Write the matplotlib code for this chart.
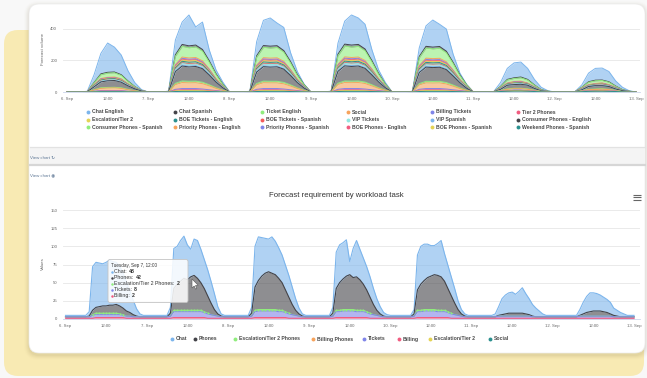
import numpy as np
import matplotlib
matplotlib.use("Agg")
import matplotlib.pyplot as plt
from matplotlib.patches import FancyBboxPatch, Polygon

plt.rcParams['font.family'] = ['Liberation Sans', 'DejaVu Sans']

W, H = 647, 378

# ---------------- shared time axis (hours after 6 Sep 00:00) ----------------
TICK_HOURS = list(range(0, 169, 12))
TICK_LABELS = ['6. Sep', '12:00', '7. Sep', '12:00', '8. Sep', '12:00', '9. Sep', '12:00',
               '10. Sep', '12:00', '11. Sep', '12:00', '12. Sep', '12:00', '13. Sep']

HC_COLORS = ['#7cb5ec', '#434348', '#90ed7d', '#f7a35c', '#8085e9',
             '#f15c80', '#e4d354', '#2b908f', '#f45b5b', '#91e8e1']

# ---------------- top chart: forecast volume per queue (2-hourly) ----------------
TOP_HOURS = list(range(0, 169, 2))

CHAT_ENGLISH = [
    [0, 0, 0, 2, 50, 130, 186, 158, 125, 65, 25, 5],
    [0, 0, 0, 2, 94, 142, 196, 115, 174, 69, 24, 13],
    [0, 0, 0, 1, 90, 160, 179, 144, 147, 57, 19, 3],
    [0, 0, 0, 2, 70, 146, 191, 168, 157, 70, 22, 10],
    [0, 0, 0, 1, 55, 130, 172, 141, 141, 52, 11, 2],
    [0, 0, 0, 1, 25, 70, 95, 95, 70, 35, 15, 3],
    [0, 0, 0, 1, 15, 55, 75, 76, 65, 32, 15, 3],
]
CHAT_SPANISH = [
    [0, 0, 0, 0, 2, 5, 5, 5, 4, 3, 1, 0],
    [0, 0, 0, 0, 9, 12, 12, 12, 11, 8, 5, 2],
    [0, 0, 0, 0, 9, 11, 12, 11, 10, 8, 5, 2],
    [0, 0, 0, 0, 10, 12, 13, 12, 11, 8, 5, 2],
    [0, 0, 0, 0, 8, 11, 11, 11, 10, 7, 4, 2],
    [0, 0, 0, 0, 2, 4, 4, 5, 4, 2, 1, 0],
    [0, 0, 0, 0, 1, 3, 4, 3, 3, 2, 1, 0],
]
TICKET_ENGLISH = [
    [0, 0, 0, 1, 11, 24, 27, 27, 22, 14, 6, 2],
    [0, 0, 0, 1, 53, 68, 65, 67, 61, 44, 26, 11],
    [0, 0, 0, 1, 50, 66, 64, 66, 58, 42, 24, 10],
    [0, 0, 0, 1, 54, 69, 66, 68, 62, 45, 27, 11],
    [0, 0, 0, 1, 49, 64, 62, 64, 57, 41, 24, 10],
    [0, 0, 0, 1, 6, 19, 19, 21, 19, 10, 3, 2],
    [0, 0, 0, 1, 5, 15, 17, 15, 15, 7, 4, 2],
]
CONSUMER_PHONES_EN = [
    [0, 0, 0, 1, 18, 37, 42, 43, 35, 22, 11, 4],
    [0, 0, 0, 2, 74, 95, 91, 93, 86, 62, 36, 15],
    [0, 0, 0, 2, 72, 92, 90, 92, 84, 60, 34, 14],
    [0, 0, 0, 2, 75, 96, 93, 95, 87, 63, 37, 15],
    [0, 0, 0, 2, 70, 90, 88, 89, 82, 58, 33, 13],
    [0, 0, 0, 1, 7, 23, 23, 25, 23, 11, 3, 2],
    [0, 0, 0, 1, 5, 18, 21, 19, 18, 8, 5, 2],
]
PRIORITY_PHONES_EN = [
    [0, 0, 0, 1, 7, 14, 16, 17, 14, 9, 4, 1],
    [0, 0, 0, 1, 30, 38, 36, 37, 34, 25, 14, 6],
    [0, 0, 0, 1, 29, 37, 36, 36, 33, 24, 13, 5],
    [0, 0, 0, 1, 31, 38, 37, 38, 35, 25, 14, 6],
    [0, 0, 0, 1, 28, 36, 35, 36, 32, 23, 13, 5],
    [0, 0, 0, 0, 2, 8, 8, 8, 8, 4, 1, 1],
    [0, 0, 0, 0, 2, 7, 7, 7, 7, 3, 1, 1],
]

# day profiles shared by the smaller queues
Q10_WEEKDAY = [0, 0, 0, 0, 8, 10, 10, 10, 9, 7, 4, 2]
Q8_WEEKDAY = [0, 0, 0, 0, 6, 8, 8, 8, 7, 5, 3, 1]
Q6_WEEKDAY = [0, 0, 0, 0, 5, 6, 6, 6, 5, 4, 2, 1]
Q5_WEEKDAY = [0, 0, 0, 0, 4, 5, 5, 5, 4, 3, 2, 1]
Q4_WEEKDAY = [0, 0, 0, 0, 3, 4, 4, 4, 4, 3, 2, 1]
Q10_HOLIDAY = [0, 0, 0, 0, 3, 4, 4, 4, 4, 3, 1, 1]
Q8_HOLIDAY = [0, 0, 0, 0, 2, 3, 3, 3, 3, 2, 1, 0]
QS_HOLIDAY = [0, 0, 0, 0, 1, 2, 2, 2, 2, 1, 1, 0]
Q10_SAT = [0, 0, 0, 0, 2, 3, 3, 3, 3, 2, 1, 0]
Q8_SAT = [0, 0, 0, 0, 1, 2, 3, 3, 2, 1, 1, 0]
QS_SAT = [0, 0, 0, 0, 1, 1, 2, 2, 1, 1, 0, 0]
Q10_SUN = [0, 0, 0, 0, 2, 2, 3, 3, 2, 2, 1, 0]
Q8_SUN = [0, 0, 0, 0, 1, 2, 2, 2, 2, 1, 0, 0]
QS_SUN = [0, 0, 0, 0, 1, 1, 1, 2, 1, 1, 0, 0]
WEEKEND_SAT = [0, 0, 0, 0, 3, 5, 6, 6, 5, 3, 1, 0]
WEEKEND_SUN = [0, 0, 0, 0, 2, 4, 5, 5, 4, 3, 1, 0]

SOCIAL = [Q8_HOLIDAY] + [Q8_WEEKDAY] * 4 + [Q8_SAT, Q8_SUN]
BILLING_TICKETS = [QS_HOLIDAY] + [Q6_WEEKDAY] * 4 + [QS_SAT, QS_SUN]
TIER2_PHONES = [QS_HOLIDAY] + [Q5_WEEKDAY] * 4 + [QS_SAT, QS_SUN]
ESCALATION_TIER2 = [Q8_HOLIDAY] + [Q8_WEEKDAY] * 4 + [Q8_SAT, Q8_SUN]
BOE_TICKETS_EN = [Q10_HOLIDAY] + [Q10_WEEKDAY] * 4 + [Q10_SAT, Q10_SUN]
BOE_TICKETS_ES = [QS_HOLIDAY] + [Q4_WEEKDAY] * 4 + [QS_SAT, QS_SUN]
VIP_TICKETS = [Q10_HOLIDAY] + [Q10_WEEKDAY] * 4 + [Q10_SAT, Q10_SUN]
VIP_SPANISH = [QS_HOLIDAY] + [Q6_WEEKDAY] * 4 + [QS_SAT, QS_SUN]
CONSUMER_PHONES_ES = [Q10_HOLIDAY] + [Q10_WEEKDAY] * 4 + [Q10_SAT, Q10_SUN]
PRIORITY_PHONES_ES = [Q8_HOLIDAY] + [Q8_WEEKDAY] * 4 + [Q8_SAT, Q8_SUN]
BOE_PHONES_EN = [QS_HOLIDAY] + [Q5_WEEKDAY] * 4 + [QS_SAT, QS_SUN]
BOE_PHONES_ES = [QS_HOLIDAY] + [Q5_WEEKDAY] * 4 + [QS_SAT, QS_SUN]
WEEKEND_PHONES_ES = [QS_HOLIDAY] + [Q4_WEEKDAY] * 4 + [WEEKEND_SAT, WEEKEND_SUN]

TOP_NAMES = ['Chat English', 'Chat Spanish', 'Ticket English', 'Social', 'Billing Tickets',
             'Tier 2 Phones', 'Escalation/Tier 2', 'BOE Tickets - English',
             'BOE Tickets - Spanish', 'VIP Tickets', 'VIP Spanish',
             'Consumer Phones - English', 'Consumer Phones - Spanish',
             'Priority Phones - English', 'Priority Phones - Spanish',
             'BOE Phones - English', 'BOE Phones - Spanish', 'Weekend Phones - Spanish']
TOP_DAYS = [CHAT_ENGLISH, CHAT_SPANISH, TICKET_ENGLISH, SOCIAL, BILLING_TICKETS,
            TIER2_PHONES, ESCALATION_TIER2, BOE_TICKETS_EN, BOE_TICKETS_ES, VIP_TICKETS,
            VIP_SPANISH, CONSUMER_PHONES_EN, CONSUMER_PHONES_ES, PRIORITY_PHONES_EN,
            PRIORITY_PHONES_ES, BOE_PHONES_EN, BOE_PHONES_ES, WEEKEND_PHONES_ES]

# ---------------- bottom chart: requirement by workload task (hourly) ----------------
BOTTOM_HOURS = list(range(0, 169))

CHAT = [
    [2, 2, 2, 2, 2, 2, 2, 6, 60, 62, 60, 58, 60, 62, 60, 58, 55, 48, 40, 30, 20, 10, 4, 2],
    [2, 2, 2, 2, 2, 2, 2, 8, 55, 52, 56, 58, 48, 38, 50, 52, 46, 40, 36, 30, 22, 10, 3, 2],
    [2, 2, 2, 2, 2, 2, 2, 8, 56, 60, 53, 48, 45, 50, 46, 42, 38, 34, 30, 24, 16, 8, 3, 2],
    [2, 2, 2, 2, 2, 2, 2, 8, 50, 52, 50, 50, 18, 40, 50, 42, 36, 32, 28, 22, 16, 10, 5, 3],
    [2, 2, 2, 2, 2, 2, 2, 6, 48, 52, 50, 46, 42, 40, 44, 50, 38, 32, 26, 20, 12, 6, 3, 2],
    [2, 2, 2, 2, 2, 2, 2, 4, 12, 22, 26, 28, 29, 26, 30, 35, 28, 22, 16, 12, 8, 4, 2, 2],
    [2, 2, 2, 2, 2, 2, 2, 2, 8, 16, 22, 26, 25, 24, 22, 20, 18, 16, 10, 8, 6, 4, 2, 2],
]
PHONES = [
    [0, 0, 0, 0, 0, 0, 0, 1, 6, 8, 9, 10, 10, 11, 11, 12, 11, 9, 7, 5, 3, 1, 0, 0],
    [0, 0, 0, 0, 0, 0, 0, 4, 30, 36, 40, 44, 42, 46, 48, 44, 38, 32, 24, 16, 8, 3, 1, 0],
    [0, 0, 0, 0, 0, 0, 0, 4, 32, 40, 46, 50, 52, 50, 48, 44, 38, 30, 22, 14, 7, 3, 1, 0],
    [0, 0, 0, 0, 0, 0, 0, 4, 30, 38, 42, 46, 48, 44, 46, 42, 36, 30, 22, 14, 7, 3, 1, 0],
    [0, 0, 0, 0, 0, 0, 0, 3, 28, 36, 40, 44, 46, 48, 48, 46, 40, 32, 24, 16, 8, 3, 1, 0],
    [0, 0, 0, 0, 0, 0, 0, 0, 1, 2, 3, 4, 4, 4, 4, 4, 3, 2, 1, 0, 0, 0, 0, 0],
    [0, 0, 0, 0, 0, 0, 0, 0, 1, 3, 5, 6, 7, 7, 7, 6, 5, 3, 2, 1, 0, 0, 0, 0],
]
ESCALATION_T2_PHONES = [
    [0, 0, 0, 0, 0, 0, 0, 0, 1, 2, 2, 2, 2, 2, 2, 2, 1, 1, 0, 0, 0, 0, 0, 0],
    [0, 0, 0, 0, 0, 0, 0, 0, 2, 2, 2, 2, 2, 2, 2, 2, 2, 1, 1, 0, 0, 0, 0, 0],
    [0, 0, 0, 0, 0, 0, 0, 0, 2, 2, 2, 2, 2, 2, 2, 2, 2, 1, 1, 0, 0, 0, 0, 0],
    [0, 0, 0, 0, 0, 0, 0, 0, 2, 2, 2, 2, 2, 2, 2, 2, 2, 1, 1, 0, 0, 0, 0, 0],
    [0, 0, 0, 0, 0, 0, 0, 0, 2, 2, 2, 2, 2, 2, 2, 2, 2, 1, 1, 0, 0, 0, 0, 0],
    [0] * 24,
    [0] * 24,
]
TICKETS = [
    [2, 2, 2, 2, 2, 2, 2, 2, 4, 4, 4, 4, 4, 4, 4, 4, 4, 3, 3, 3, 2, 2, 2, 2],
    [2, 2, 2, 2, 2, 2, 2, 3, 8, 8, 8, 8, 8, 8, 8, 8, 8, 7, 6, 5, 4, 3, 2, 2],
    [2, 2, 2, 2, 2, 2, 2, 3, 8, 9, 9, 9, 9, 9, 9, 8, 8, 7, 6, 5, 4, 3, 2, 2],
    [2, 2, 2, 2, 2, 2, 2, 3, 8, 8, 9, 9, 9, 9, 8, 8, 8, 7, 6, 5, 4, 3, 2, 2],
    [2, 2, 2, 2, 2, 2, 2, 3, 8, 8, 9, 9, 9, 9, 8, 8, 8, 7, 6, 5, 4, 3, 2, 2],
    [2, 2, 2, 2, 2, 2, 2, 2, 3, 3, 3, 3, 3, 3, 3, 3, 3, 3, 2, 2, 2, 2, 2, 2],
    [2, 2, 2, 2, 2, 2, 2, 2, 3, 3, 3, 3, 3, 3, 3, 3, 3, 3, 2, 2, 2, 2, 2, 2],
]
BILLING = [
    [1, 1, 1, 1, 1, 1, 1, 1, 1, 2, 2, 2, 2, 2, 2, 2, 2, 2, 1, 1, 1, 1, 1, 1],
    [1, 1, 1, 1, 1, 1, 1, 1, 2, 2, 2, 2, 2, 2, 2, 2, 2, 2, 1, 1, 1, 1, 1, 1],
    [1, 1, 1, 1, 1, 1, 1, 1, 2, 2, 2, 2, 2, 2, 2, 2, 2, 2, 1, 1, 1, 1, 1, 1],
    [1, 1, 1, 1, 1, 1, 1, 1, 2, 2, 2, 2, 2, 2, 2, 2, 2, 2, 1, 1, 1, 1, 1, 1],
    [1, 1, 1, 1, 1, 1, 1, 1, 2, 2, 2, 2, 2, 2, 2, 2, 2, 2, 1, 1, 1, 1, 1, 1],
    [1] * 24,
    [1] * 24,
]
BILLING_PHONES = [[0] * 24] * 7
ESCALATION_T2 = [[0] * 24] * 7
SOCIAL_TASK = [[0] * 24] * 7

BOTTOM_NAMES = ['Chat', 'Phones', 'Escalation/Tier 2 Phones', 'Billing Phones',
                'Tickets', 'Billing', 'Escalation/Tier 2', 'Social']
BOTTOM_DAYS = [CHAT, PHONES, ESCALATION_T2_PHONES, BILLING_PHONES,
               TICKETS, BILLING, ESCALATION_T2, SOCIAL_TASK]
BOTTOM_END = [2, 0, 0, 0, 2, 1, 0, 0]

TOOLTIP_HOUR = 36   # Tuesday 7 Sep, 12:00
TOOLTIP_HEADER = 'Tuesday, Sep 7, 12:00'
TOOLTIP_SERIES = ['Chat', 'Phones', 'Escalation/Tier 2 Phones', 'Tickets', 'Billing']


def flatten(days, end=0):
    return [v for day in days for v in day] + [end]


top_values = [flatten(d) for d in TOP_DAYS]
top_colors = [HC_COLORS[i % 10] for i in range(len(TOP_NAMES))]
bottom_values = [flatten(d, e) for d, e in zip(BOTTOM_DAYS, BOTTOM_END)]
bottom_colors = HC_COLORS[:len(BOTTOM_NAMES)]


def px_rect(x0, y0, x1, y1):
    return [x0 / W, 1 - y1 / H, (x1 - x0) / W, (y1 - y0) / H]


def stacked_area(ax, x, series, colors, alpha, lw, marker_series=None):
    """Series are listed top-first, as in the legend; stack from the bottom up."""
    x = np.asarray(x, float)
    base = np.zeros(len(x))
    layers = []
    for vals, col in zip(reversed(series), reversed(colors)):
        v = np.asarray(vals, float)
        top = base + v
        ax.fill_between(x, base, top, color=col, alpha=alpha, lw=0, zorder=2)
        layers.append((top, col, v))
        base = top
    for i, (top, col, v) in enumerate(reversed(layers)):
        if not v.any():
            continue
        ax.plot(x, top, color=col, lw=lw, zorder=3, solid_joinstyle='round')
        if marker_series is not None and i == marker_series:
            mask = v > 0
            ax.plot(x[mask], top[mask], 'o', ms=1.4, color=col, mec='none', zorder=4)


def style_axes(ax, yticks, ylabel, ylabel_y):
    ax.set_facecolor('none')
    for side in ('top', 'left', 'right'):
        ax.spines[side].set_visible(False)
    ax.spines['bottom'].set_color('#ccd6eb')
    ax.spines['bottom'].set_linewidth(0.6)
    ax.set_yticks(yticks)
    ax.set_xticks(TICK_HOURS)
    ax.set_xticklabels(TICK_LABELS)
    ax.tick_params(axis='both', length=0, labelsize=3.1, labelcolor='#666666')
    ax.tick_params(axis='x', pad=3.3)
    ax.tick_params(axis='y', pad=4.2)
    ax.grid(axis='y', color='#e6e6e6', lw=0.6)
    ax.set_axisbelow(True)
    ax.set_ylabel(ylabel, fontsize=3.2, color='#666666')
    ax.yaxis.set_label_coords(-0.032, ylabel_y)


fig = plt.figure(figsize=(W / 100, H / 100), dpi=100)
fig.patch.set_facecolor('#f8f8f8')

# ---------------- page background, card and separators ----------------
bg = fig.add_axes([0, 0, 1, 1], zorder=0)
bg.set_xlim(0, W)
bg.set_ylim(H, 0)
bg.axis('off')

bg.add_patch(FancyBboxPatch((4, 30), 640, 346, boxstyle='round,pad=0,rounding_size=14',
                            fc='#f8eab3', ec='none'))
for k, a in zip(range(1, 6), [0.05, 0.04, 0.03, 0.02, 0.012]):
    bg.add_patch(FancyBboxPatch((29 - k, 4 - k + 2), 616 + 2 * k, 349 + 2 * k,
                                boxstyle='round,pad=0,rounding_size=%d' % (10 + k),
                                fc='#7a6a40', ec='none', alpha=a))
bg.add_patch(FancyBboxPatch((29, 4), 616, 349, boxstyle='round,pad=0,rounding_size=10',
                            fc='white', ec='#ececec', lw=0.5))

bg.fill_between([29.5, 644.5], 147, 163.5, color='#f4f4f4', lw=0)
bg.plot([29.5, 644.5], [147, 147], color='#e2e2e2', lw=0.9)
bg.plot([29.5, 644.5], [164.5, 164.5], color='#d6d6d6', lw=1.6)
bg.text(30, 158, 'View chart \u21bb', fontsize=3.2, color='#5f7896', va='center', ha='left')
bg.text(30, 175, 'View chart \u25c9', fontsize=3.2, color='#5f7896', va='center', ha='left')

# ---------------- top chart ----------------
ax1 = fig.add_axes(px_rect(63, 10, 640, 92), zorder=1)
ppx1 = (636 - 67) / 168
ax1.set_xlim((63 - 67) / ppx1, (640 - 67) / ppx1)
ax1.set_ylim(0, (92 - 10) / 63 * 400)
stacked_area(ax1, TOP_HOURS, top_values, top_colors, alpha=0.6, lw=0.7)
style_axes(ax1, [0, 200, 400], 'Forecast volume', 0.52)

leg_cols = [88, 175, 262, 348, 432, 518]
leg_rows = [112, 119.5, 127]
for i, (name, col) in enumerate(zip(TOP_NAMES, top_colors)):
    x = leg_cols[i % 6]
    y = leg_rows[i // 6]
    bg.plot(x, y, 'o', ms=2.8, color=col, mec='none')
    bg.text(x + 4, y, name, fontsize=3.7, fontweight='bold', color='#4a4a4a',
            va='center', ha='left')

# ---------------- bottom chart ----------------
bg.text(336, 195.5, 'Forecast requirement by workload task', fontsize=5.6,
        color='#333333', ha='center', va='center')
for yy in (195, 197.3, 199.6):
    bg.plot([633, 641], [yy, yy], color='#666666', lw=0.8, solid_capstyle='butt')

ax2 = fig.add_axes(px_rect(63, 208, 640, 319), zorder=1)
ppx2 = (634 - 65.5) / 168
ax2.set_xlim((63 - 65.5) / ppx2, (640 - 65.5) / ppx2)
ax2.set_ylim(0, (319 - 208) / (109 / 150))
stacked_area(ax2, BOTTOM_HOURS, bottom_values, bottom_colors, alpha=0.6, lw=0.8,
             marker_series=2)
style_axes(ax2, [0, 25, 50, 75, 100, 125, 150], 'Values', 0.5)

bot_leg_x = [172, 195, 235, 313, 364, 399, 430, 490]
for name, col, x in zip(BOTTOM_NAMES, bottom_colors, bot_leg_x):
    bg.plot(x, 339, 'o', ms=2.8, color=col, mec='none')
    bg.text(x + 4, 339, name, fontsize=3.7, fontweight='bold', color='#4a4a4a',
            va='center', ha='left')

# ---------------- hover tooltip ----------------
ov = fig.add_axes([0, 0, 1, 1], zorder=3)
ov.set_xlim(0, W)
ov.set_ylim(H, 0)
ov.axis('off')
ov.add_patch(FancyBboxPatch((108, 259.5), 80, 43, boxstyle='round,pad=0,rounding_size=2',
                            fc=(1, 1, 1, 0.86), ec='#c4c4c4', lw=0.6))
ov.text(111, 265, TOOLTIP_HEADER, fontsize=3.3, color='#333333', va='center', ha='left')
for j, name in enumerate(TOOLTIP_SERIES):
    k = BOTTOM_NAMES.index(name)
    y = 271.5 + j * 6.0
    ov.plot(112, y, 'o', ms=1.8, color=bottom_colors[k], mec='none')
    t = ov.text(114.5, y, name + ': ', fontsize=3.8, color='#333333', va='center', ha='left')
    ov.annotate(str(bottom_values[k][TOOLTIP_HOUR]), xy=(1, 0.5), xycoords=t,
                fontsize=3.8, fontweight='bold', color='#333333', va='center', ha='left')

ov.add_patch(Polygon([(192, 279), (192, 288), (194.2, 286), (195.6, 289.2), (196.8, 288.6),
                      (195.5, 285.5), (198.2, 285.3)], closed=True,
                     fc='white', ec='#555555', lw=0.4))

fig.savefig('out.png', dpi=100, facecolor=fig.get_facecolor())
